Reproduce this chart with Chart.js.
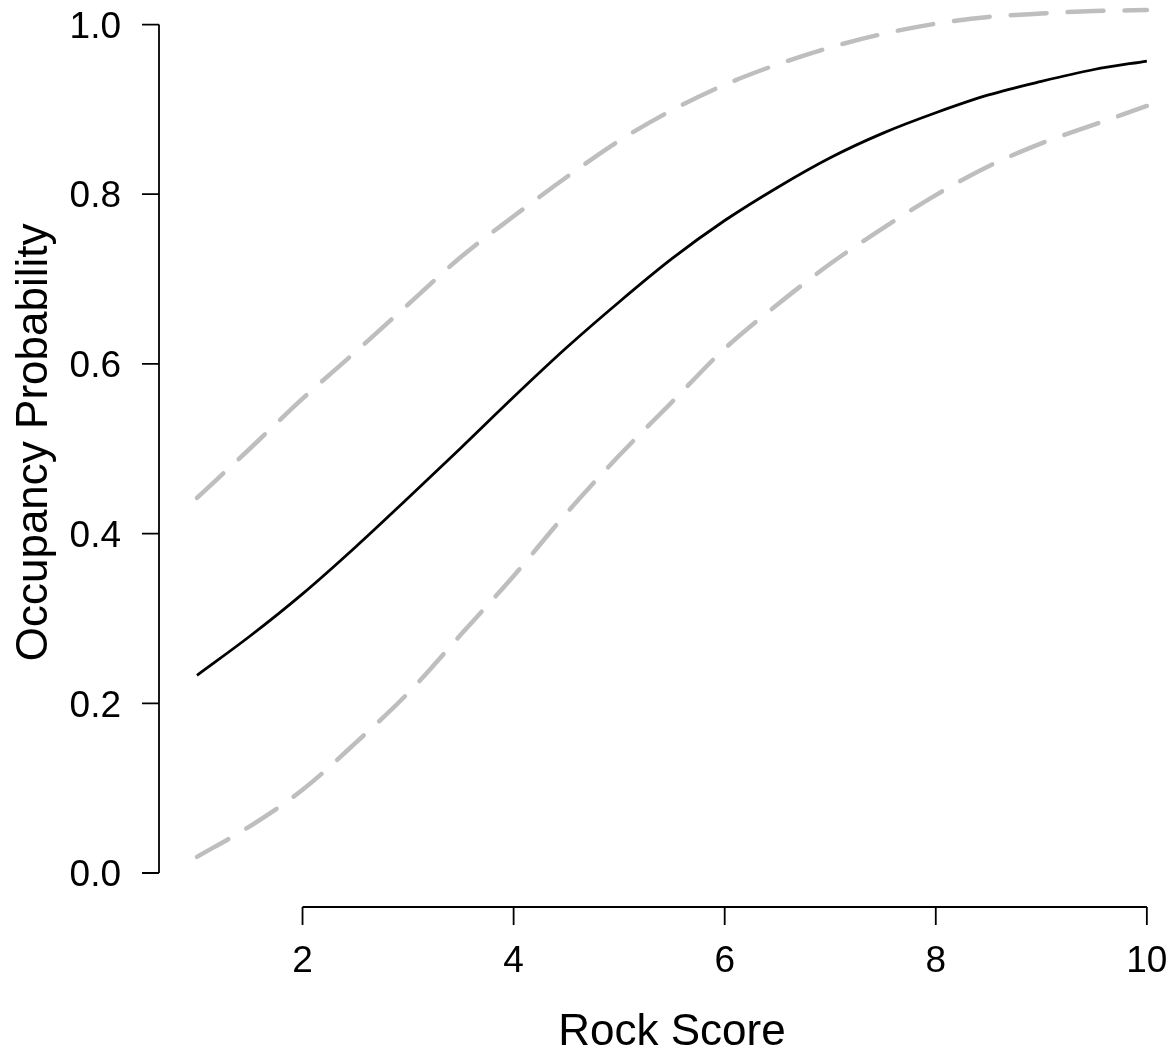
<!DOCTYPE html>
<html>
<head>
<meta charset="utf-8">
<script src="https://cdn.jsdelivr.net/npm/chart.js@4/dist/chart.umd.min.js"></script>
<style>
  html, body { margin: 0; padding: 0; background: #ffffff; }
  #wrap { width: 1173px; height: 1053px; position: relative; }
</style>
</head>
<body>
<div id="wrap"><canvas id="c" width="1173" height="1053"></canvas></div>
<script>
// ---- data ----
const rockScore = [1, 1.5, 2, 2.5, 3, 3.5, 4, 4.5, 5, 5.5, 6, 6.5, 7, 7.5, 8, 8.5, 9, 9.5, 10];
const fitProb   = [0.233, 0.279, 0.329, 0.384, 0.442, 0.501, 0.561, 0.619, 0.673, 0.724, 0.769, 0.808, 0.843, 0.872, 0.896, 0.917, 0.933, 0.947, 0.957];
const upperProb = [0.442, 0.500, 0.559, 0.614, 0.670, 0.726, 0.774, 0.820, 0.863, 0.899, 0.929, 0.953, 0.973, 0.989, 1.001, 1.009, 1.013, 1.016, 1.017];
const lowerProb = [0.019, 0.055, 0.098, 0.153, 0.212, 0.281, 0.350, 0.424, 0.492, 0.555, 0.618, 0.670, 0.718, 0.760, 0.799, 0.833, 0.860, 0.882, 0.904];

const xTicks = [2, 4, 6, 8, 10];
const xTickLabels = ["2", "4", "6", "8", "10"];
const yTicks = [0, 0.2, 0.4, 0.6, 0.8, 1.0];
const yTickLabels = ["0.0", "0.2", "0.4", "0.6", "0.8", "1.0"];
const xTitle = "Rock Score";
const yTitle = "Occupancy Probability";

const FONT = '"Liberation Sans", Arial, Helvetica, sans-serif';

function pts(ys) { return rockScore.map((x, i) => ({ x: x, y: ys[i] })); }

// R-style axes drawn through the chart's own scales
const rAxes = {
  id: 'rAxes',
  afterDraw(chart) {
    const ctx = chart.ctx;
    const xs = chart.scales.x, ys = chart.scales.y;
    const area = chart.chartArea;
    ctx.save();
    ctx.strokeStyle = '#000';
    ctx.fillStyle = '#000';
    ctx.lineWidth = 1.8;
    ctx.lineCap = 'butt';
    // y axis
    const yAxX = area.left;
    ctx.beginPath();
    ctx.moveTo(yAxX, ys.getPixelForValue(yTicks[0]));
    ctx.lineTo(yAxX, ys.getPixelForValue(yTicks[yTicks.length - 1]));
    yTicks.forEach(v => {
      const p = ys.getPixelForValue(v);
      ctx.moveTo(yAxX, p);
      ctx.lineTo(yAxX - 17, p);
    });
    ctx.stroke();
    // x axis
    const xAxY = area.bottom;
    ctx.beginPath();
    ctx.moveTo(xs.getPixelForValue(xTicks[0]), xAxY);
    ctx.lineTo(xs.getPixelForValue(xTicks[xTicks.length - 1]), xAxY);
    xTicks.forEach(v => {
      const p = xs.getPixelForValue(v);
      ctx.moveTo(p, xAxY);
      ctx.lineTo(p, xAxY + 18);
    });
    ctx.stroke();
    // tick labels
    const tf = 37;
    ctx.font = tf + 'px ' + FONT;
    ctx.textAlign = 'right';
    ctx.textBaseline = 'alphabetic';
    yTicks.forEach((v, i) => {
      const p = ys.getPixelForValue(v);
      ctx.fillText(yTickLabels[i], yAxX - 38, p + tf * 0.358);
    });
    ctx.textAlign = 'center';
    xTicks.forEach((v, i) => {
      const p = xs.getPixelForValue(v);
      ctx.fillText(xTickLabels[i], p, xAxY + 65);
    });
    // titles
    ctx.font = '44px ' + FONT;
    ctx.textAlign = 'center';
    ctx.fillText(xTitle, (area.left + xs.getPixelForValue(10.36)) / 2, 1045);
    ctx.save();
    ctx.translate(47, (ys.getPixelForValue(-0.04) + ys.getPixelForValue(1.055)) / 2);
    ctx.rotate(-Math.PI / 2);
    ctx.fillText(yTitle, 0, 0);
    ctx.restore();
    ctx.restore();
  }
};

new Chart(document.getElementById('c'), {
  type: 'line',
  data: {
    datasets: [
      {
        label: 'Upper',
        data: pts(upperProb),
        borderColor: '#bebebe',
        borderWidth: 4.5,
        borderDash: [36, 21],
        borderCapStyle: 'round',
        pointRadius: 0,
        fill: false,
        cubicInterpolationMode: 'monotone'
      },
      {
        label: 'Lower',
        data: pts(lowerProb),
        borderColor: '#bebebe',
        borderWidth: 4.5,
        borderDash: [36, 21],
        borderCapStyle: 'round',
        pointRadius: 0,
        fill: false,
        cubicInterpolationMode: 'monotone'
      },
      {
        label: 'Fitted',
        data: pts(fitProb),
        borderColor: '#000000',
        borderWidth: 2.8,
        pointRadius: 0,
        fill: false,
        cubicInterpolationMode: 'monotone'
      }
    ]
  },
  options: {
    responsive: false,
    animation: false,
    devicePixelRatio: 1,
    clip: false,
    layout: { padding: { left: 159, right: 10, top: 4, bottom: 146 } },
    plugins: { legend: { display: false }, tooltip: { enabled: false }, title: { display: false } },
    events: [],
    scales: {
      x: { type: 'linear', min: 0.64, max: 0.64 + 1004 / 105.54, display: false },
      y: { type: 'linear', min: -0.0401, max: 1.0242, display: false }
    }
  },
  plugins: [rAxes]
});
</script>
</body>
</html>
